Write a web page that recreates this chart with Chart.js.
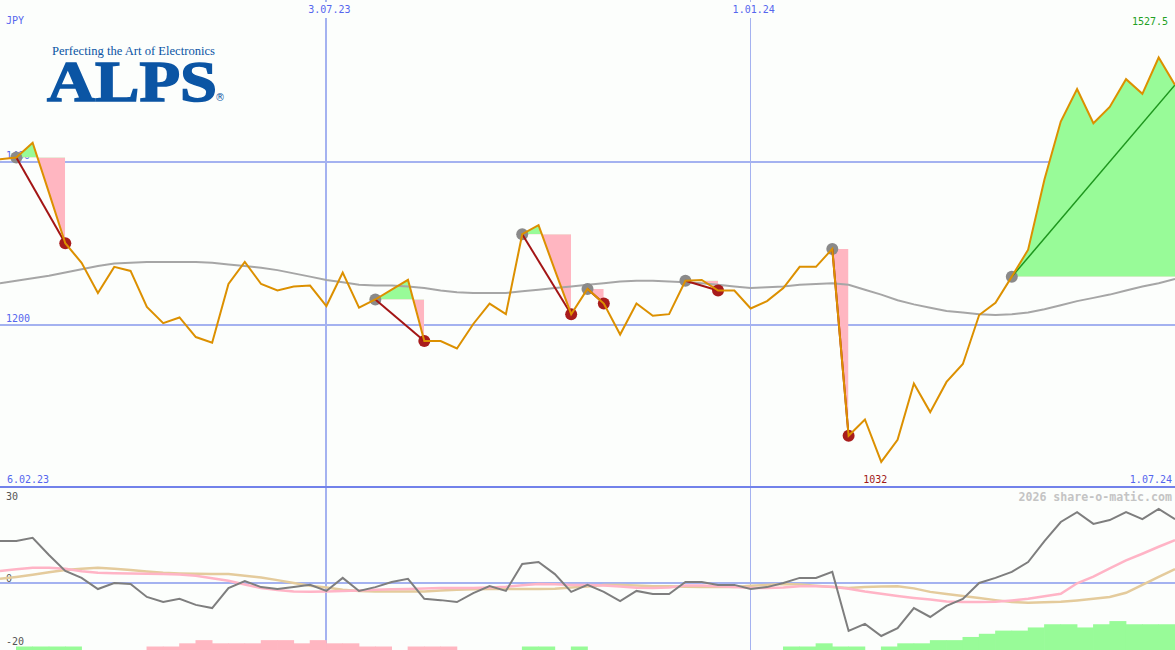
<!DOCTYPE html>
<html>
<head>
<meta charset="utf-8">
<title>ALPS JPY</title>
<script src="https://cdn.jsdelivr.net/npm/chart.js@4.4.1/dist/chart.umd.min.js"></script>
<style>
  html, body { margin: 0; padding: 0; background: #fcfefc; }
  #wrap { position: relative; width: 1175px; height: 650px; overflow: hidden; background: #fcfefc; }
  #wrap canvas { position: absolute; left: 0; z-index: 2; }
  #priceChart { top: 0; }
  #oscChart { top: 488px; }
  #sep { position: absolute; left: 0; top: 486px; width: 1175px; height: 2px; background: #7282ea; z-index: 3; }
  .lbl { position: absolute; z-index: 1; font: 10px "DejaVu Sans Mono", monospace; line-height: 10px; color: #5566ee; white-space: nowrap; }
  .front { z-index: 3; background: #fcfefc; padding: 3px 2px; }
  .osc { color: #555555; }
  .mark { font-weight: bold; font-size: 11.6px; color: #c4c4c4; }
  #logo div { position: absolute; z-index: 1; color: #0b55a4; white-space: nowrap; transform-origin: 0 0; }
  #tagline { left: 52px; top: 44.5px; font: 12.5px "Liberation Serif", serif; line-height: 1; }
  #brand { left: 47px; top: 53.3px; font: bold 57px "Liberation Serif", serif; line-height: 1; -webkit-text-stroke: 1.5px #0b55a4; }
  #reg { left: 215px; top: 93px; font: 10px "DejaVu Sans", sans-serif; line-height: 1; }
</style>
</head>
<body>
<div id="wrap">
  <div id="logo">
    <div id="tagline">Perfecting the Art of Electronics</div>
    <div id="brand">ALPS</div>
    <div id="reg">®</div>
  </div>
  <canvas id="priceChart" width="1175" height="488"></canvas>
  <canvas id="oscChart" width="1175" height="162"></canvas>
  <div id="sep"></div>
</div>
<script>
// weekly closes 6.02.23 .. 1.07.24 (JPY)
const price = [1403, 1405, 1423, 1362, 1300, 1276, 1239, 1271, 1266, 1222,
  1202, 1209, 1185, 1178, 1250, 1277, 1250, 1242, 1247, 1248,
  1223, 1264, 1221, 1231, 1243, 1255, 1180, 1180, 1171, 1201,
  1226, 1213, 1311, 1322, 1267, 1213, 1244, 1226, 1188, 1226,
  1211, 1213, 1254, 1255, 1242, 1242, 1220, 1229, 1245, 1271,
  1271, 1293, 1064, 1084, 1032, 1059, 1128, 1093, 1130, 1152,
  1212, 1227, 1259, 1292, 1378, 1449, 1489, 1447, 1467, 1501,
  1483, 1527.5, 1494];

// long moving average (gray)
const trend = [1251, 1254, 1257, 1260, 1264, 1268, 1272, 1275, 1276, 1277,
  1277, 1277, 1277, 1276, 1274, 1272, 1270, 1267, 1263, 1259,
  1255, 1252, 1249, 1248, 1248, 1247, 1245, 1242, 1240, 1239,
  1239, 1239, 1241, 1243, 1245, 1247, 1249, 1251, 1253, 1254,
  1254, 1253, 1252, 1251, 1249, 1247, 1245, 1246, 1247, 1249,
  1250, 1251, 1249, 1243, 1237, 1230, 1225, 1221, 1217, 1215,
  1213, 1212, 1213, 1215, 1219, 1224, 1229, 1233, 1237, 1242,
  1247, 1251, 1256];

// lower panel
const momentum = [13.3, 13.3, 14.3, 8.9, 3.9, 1.7, -1.8, 0.1, -0.2, -4.3,
  -5.9, -4.9, -6.8, -7.8, -1.5, 0.7, -1.2, -1.8, -1.2, -0.5,
  -2.4, 1.7, -2.4, -1.2, 0.4, 1.4, -4.9, -5.3, -5.9, -3.1,
  -0.9, -2.4, 6.1, 6.7, 2.9, -2.7, -0.5, -2.7, -5.6, -2.4,
  -3.4, -3.4, 0.4, 0.4, -0.5, -0.5, -1.8, -1.2, 0.1, 1.7,
  1.7, 3.6, -15.0, -12.8, -16.6, -14.1, -7.8, -10.6, -7.1, -4.9,
  0.1, 1.7, 3.6, 6.7, 13.3, 19.3, 22.4, 18.7, 19.9, 22.4,
  20.2, 23.4, 20.2];

const fastAvg = [3.9, 4.4, 4.9, 4.9, 4.6, 3.8, 3.3, 3.2, 3.1, 3.0,
  2.9, 2.8, 2.4, 1.6, 0.8, -0.4, -1.5, -2.1, -2.6, -2.7,
  -2.6, -2.4, -2.3, -2.0, -1.9, -1.8, -1.6, -1.5, -1.5, -1.5,
  -1.3, -1.1, -0.6, -0.2, -0.3, -0.5, -0.5, -0.7, -1.0, -1.4,
  -1.5, -1.3, -0.7, -0.7, -0.9, -1.2, -1.5, -1.5, -1.3, -0.9,
  -0.9, -1.1, -1.7, -2.6, -3.3, -4.0, -4.6, -5.1, -5.7, -5.9,
  -5.9, -5.8, -5.4, -4.9, -4.1, -3.3, 0.0, 2.1, 4.7, 7.2,
  9.3, 11.5, 13.6];

const slowAvg = [1.4, 2.0, 2.7, 3.5, 4.2, 4.6, 4.9, 4.6, 4.2, 3.7,
  3.3, 3.1, 3.0, 2.9, 2.9, 2.4, 1.8, 1.0, 0.1, -0.8,
  -1.3, -2.0, -2.4, -2.6, -2.6, -2.6, -2.6, -2.3, -2.0, -1.9,
  -1.8, -1.8, -1.8, -1.8, -1.7, -1.3, -1.0, -0.5, -0.5, -0.7,
  -0.9, -0.9, -1.1, -1.2, -1.2, -1.2, -0.8, -0.5, -0.2, -0.4,
  -0.8, -1.2, -1.5, -1.2, -1.0, -0.9, -1.6, -2.7, -3.4, -4.0,
  -4.6, -5.3, -5.9, -6.1, -6.0, -5.8, -5.4, -4.9, -4.3, -3.0,
  -0.5, 2.0, 4.5];

// strength bars per week (green > 0, pink < 0)
const strength = [0, 1, 1, 1, 1, 0, 0, 0, 0, -1,
  -1, -2, -3, -2, -2, -2, -3, -3, -2, -3,
  -2, -2, -1, -1, 0, -1, -1, -1, 0, 0,
  0, 0, 1, 1, 0, 1, 0, 0, 0, 0,
  0, 0, 0, 0, 0, 0, 0, 0, 1, 1,
  2, 1, 1, 0, 1, 2, 2, 3, 3, 4,
  5, 6, 6, 7, 8, 8, 7, 8, 9, 8,
  8, 8];

// signals (week index)
const buyAt = [1, 23, 32, 36, 42, 51, 62];
const sellAt = [4, 26, 35, 37, 44, 52];

const dateTicks = [{ index: 20, label: '3.07.23' }, { index: 46, label: '1.01.24' }];
const firstDate = '6.02.23';
const lastDate = '1.07.24';
const priceGrid = [1200, 1400];
const oscLabels = [30, 0, -20];
const currency = 'JPY';
const watermark = '2026 share-o-matic.com';

const lastIdx = price.length - 1;
const pts = arr => arr.map((v, i) => ({ x: i, y: v }));
const gridBlue = '#a4b2f0';
const barFloor = -21;

const xScale = {
  type: 'linear', min: 0, max: lastIdx, offset: false,
  border: { display: false },
  ticks: { display: false },
  grid: { drawTicks: false, offset: false, color: gridBlue,
          lineWidth: c => (c.tick && c.tick.value === dateTicks[0].index ? 2 : 1) },
  afterBuildTicks: s => { s.ticks = dateTicks.map(d => ({ value: d.index })); }
};

const common = {
  responsive: false,
  animation: false,
  events: [],
  layout: { padding: 0, autoPadding: false },
  plugins: { legend: { display: false }, tooltip: { enabled: false } },
  elements: { line: { tension: 0 }, point: { radius: 0 } }
};

// ---- price panel ----
const priceSets = [];
buyAt.forEach((b, k) => {
  const end = k < sellAt.length ? sellAt[k] : lastIdx;
  const level = price[b];
  const seg = [];
  for (let i = b; i <= end; i++) seg.push({ x: i, y: price[i] });
  // entry level, then price segment filled against it
  priceSets.push({ data: seg.map(p => ({ x: p.x, y: level })), borderColor: 'rgba(0,0,0,0)', borderWidth: 0, pointRadius: 0, order: 6 });
  priceSets.push({ data: seg, borderColor: 'rgba(0,0,0,0)', borderWidth: 0, pointRadius: 0, order: 5,
                   fill: { target: '-1', above: '#98fb98', below: '#ffb6c1' } });
  const win = price[end] > level;
  priceSets.push({ data: [seg[0], seg[seg.length - 1]], borderColor: win ? '#1e961e' : '#a31515',
                   borderWidth: win ? 1.5 : 2, pointRadius: 0, order: 1 });
});
priceSets.push({ data: buyAt.map(i => ({ x: i, y: price[i] })), showLine: false, pointRadius: 6,
                 pointBackgroundColor: '#8a8a8a', pointBorderWidth: 0, order: 2 });
priceSets.push({ data: sellAt.map(i => ({ x: i, y: price[i] })), showLine: false, pointRadius: 6,
                 pointBackgroundColor: '#a81c1c', pointBorderWidth: 0, order: 2 });
priceSets.push({ data: pts(trend), borderColor: '#a6a6a6', borderWidth: 2, pointRadius: 0, order: 3 });
priceSets.push({ data: pts(price), borderColor: '#dc9000', borderWidth: 2, pointRadius: 0, order: 0 });

const priceChart = new Chart('priceChart', {
  type: 'line',
  data: { datasets: priceSets },
  options: Object.assign({}, common, {
    scales: {
      x: xScale,
      y: { min: 1000, max: 1598, border: { display: false }, ticks: { display: false },
           grid: { drawTicks: false, color: gridBlue, lineWidth: 2 },
           afterBuildTicks: s => { s.ticks = priceGrid.map(v => ({ value: v })); } }
    }
  })
});

// ---- oscillator panel ----
const barData = [];
strength.forEach((v, i) => {
  if (v !== 0) barData.push({ x: i + 0.5, y: [barFloor, barFloor + Math.abs(v)] });
});

const oscChart = new Chart('oscChart', {
  type: 'line',
  data: {
    datasets: [
      { type: 'bar', data: barData, order: 3, borderWidth: 0, grouped: false,
        barPercentage: 1, categoryPercentage: 1,
        backgroundColor: c => (c.raw && strength[Math.floor(c.raw.x)] > 0 ? '#98fb98' : '#ffb6c1') },
      { data: pts(slowAvg), borderColor: '#e4cb9c', borderWidth: 2.5, pointRadius: 0, order: 2 },
      { data: pts(fastAvg), borderColor: '#ffb4c6', borderWidth: 2.5, pointRadius: 0, order: 1 },
      { data: pts(momentum), borderColor: '#7e7e7e', borderWidth: 2, pointRadius: 0, order: 0 }
    ]
  },
  options: Object.assign({}, common, {
    scales: {
      x: xScale,
      y: { min: barFloor, max: 30, border: { display: false }, ticks: { display: false },
           grid: { drawTicks: false, color: gridBlue, lineWidth: 2 },
           afterBuildTicks: s => { s.ticks = [{ value: 0 }]; } }
    }
  })
});

// ---- text ----
const wrap = document.getElementById('wrap');
function label(text, cls, css) {
  const d = document.createElement('div');
  d.className = 'lbl ' + (cls || '');
  d.textContent = text;
  Object.assign(d.style, css);
  wrap.appendChild(d);
  return d;
}
const px = priceChart.scales.x, py = priceChart.scales.y, oy = oscChart.scales.y;
const maxVal = Math.max(...price), minVal = Math.min(...price);
const minIdx = price.indexOf(minVal);
const oscTop = 488;

label(currency, '', { left: '6px', top: '15.5px' });
dateTicks.forEach(d => {
  label(d.label, 'front', { left: (px.getPixelForValue(d.index) + 3) + 'px', top: '1.5px', transform: 'translateX(-50%)' });
});
label(String(maxVal), '', { right: '7px', top: '16.5px', color: '#22a022' });
priceGrid.forEach(v => label(String(v), '', { left: '6px', top: (py.getPixelForValue(v) - 10.5) + 'px' }));
label(firstDate, '', { left: '7px', top: '474.5px' });
label(String(minVal), '', { left: (px.getPixelForValue(minIdx) - 6) + 'px', top: '474.5px', color: '#a01818', transform: 'translateX(-50%)' });
label(lastDate, '', { right: '3px', top: '474.5px' });
oscLabels.forEach(v => {
  const t = Math.max(oscTop + 3.5, oscTop + oy.getPixelForValue(v) - 9.5);
  label(String(v), 'osc', { left: '6px', top: t + 'px' });
});
label(watermark, 'mark', { right: '3px', top: '490.5px', lineHeight: '12px' });

// logo sizing
function fitWidth(id, w) {
  const el = document.getElementById(id);
  const r = el.getBoundingClientRect();
  el.style.transform = 'scaleX(' + (w / r.width) + ')';
}
fitWidth('tagline', 163);
fitWidth('brand', 170);
</script>
</body>
</html>
